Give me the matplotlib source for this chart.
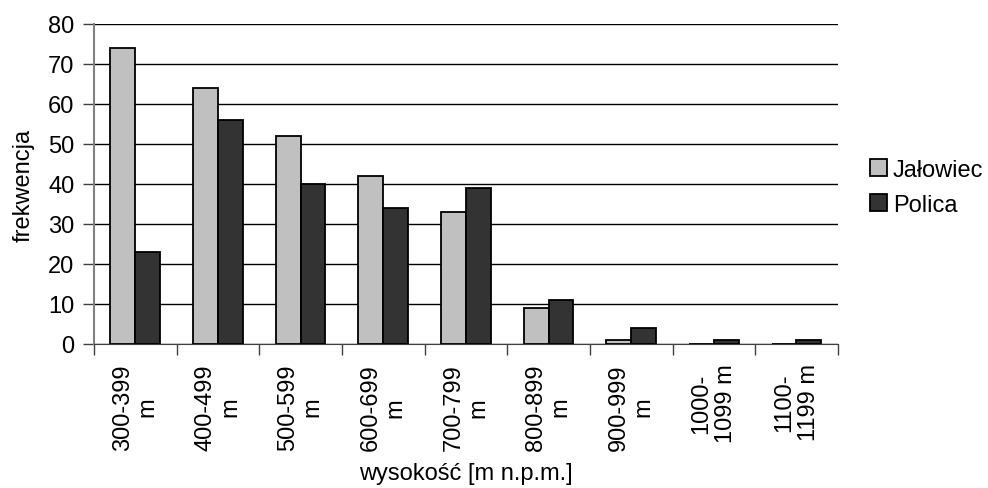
import numpy as np
import matplotlib
matplotlib.use("Agg")
import matplotlib.pyplot as plt

# -----------------------------
# DATA
# -----------------------------
categories = ["300-399\nm", "400-499\nm", "500-599\nm", "600-699\nm", "700-799\nm",
              "800-899\nm", "900-999\nm", "1000-\n1099 m", "1100-\n1199 m"]
jalowiec = [74, 64, 52, 42, 33, 9, 1, 0, 0]
polica = [23, 56, 40, 34, 39, 11, 4, 1, 1]

# -----------------------------
# PLOT
# -----------------------------
plt.rcParams['font.family'] = ['Liberation Sans', 'DejaVu Sans']
plt.rcParams['font.size'] = 17

fig = plt.figure(figsize=(9.88, 4.89), dpi=100)
ax = fig.add_axes([0.0951, 0.2945, 0.848 - 0.0951, 0.9489 - 0.2945])

x = np.arange(len(categories))
w = 0.3
ax.bar(x - w / 2, jalowiec, w, color='#c0c0c0', edgecolor='black', linewidth=1.3,
       label='Jałowiec', zorder=3)
ax.bar(x + w / 2, polica, w, color='#333333', edgecolor='black', linewidth=1.3,
       label='Polica', zorder=3)

ax.set_xlim(-0.5, len(categories) - 0.5)
ax.set_ylim(0, 80)
ax.set_yticks(range(0, 81, 10))
ax.yaxis.grid(True, color='black', linewidth=1)
ax.set_axisbelow(True)

# x ticks on category boundaries, labels at centers
ax.set_xticks(np.arange(-0.5, len(categories)), minor=False)
ax.set_xticklabels([])
ax.set_xticks(x, minor=True)
ax.set_xticklabels(categories, minor=True, rotation=90, va='top', ha='center',
                   multialignment='center', linespacing=1.15)
ax.tick_params(axis='x', which='minor', length=0, pad=14)
ax.tick_params(axis='x', which='major', length=8, color='#404040', width=1)
ax.tick_params(axis='y', length=8, color='#404040', width=1, pad=6)

for s in ['top', 'right']:
    ax.spines[s].set_visible(False)
ax.spines['left'].set_color('#808080')
ax.spines['left'].set_linewidth(1.5)
ax.spines['bottom'].set_color('#404040')

ax.set_ylabel('frekwencja', labelpad=10)
ax.set_xlabel('wysokość [m n.p.m.]')
ax.xaxis.set_label_coords(0.5, -0.37)

ax.legend(loc='center left', bbox_to_anchor=(1.015, 0.49), frameon=False,
          handlelength=0.7, handleheight=0.7, handletextpad=0.25, labelspacing=0.55)

plt.savefig("out.png", dpi=100)
